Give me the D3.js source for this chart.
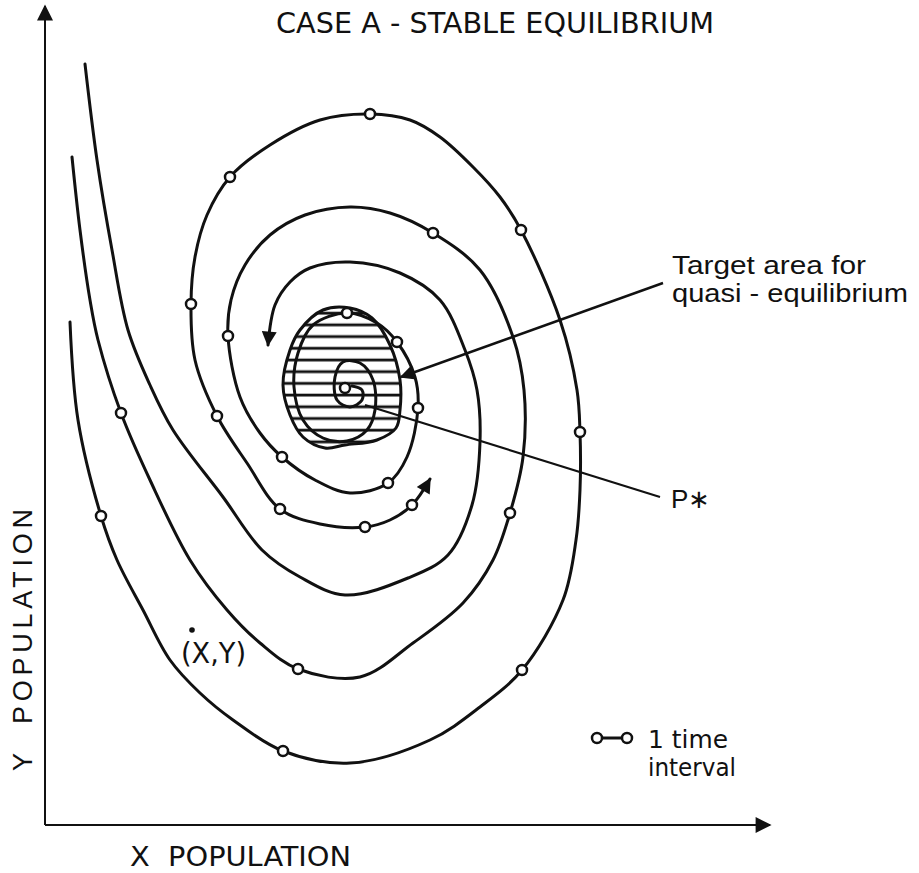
<!DOCTYPE html>
<html>
<head>
<meta charset="utf-8">
<script src="https://cdn.jsdelivr.net/npm/d3@7"></script>
<style>
  body { margin: 0; background: #fff; }
  text { fill: #111; }
</style>
</head>
<body>
<svg id="canvas" width="919" height="873"></svg>
<script>
// phase-plane trajectories, [x population, y population, 1 = one time interval mark]
let outerTrack = [
  [2.5, 50.3], [3.3, 40.5], [5.6, 30.9, 1], [7.2, 26.5], [9.8, 21.5], [12.5, 16.5],
  [15.5, 13.2], [18.8, 10.5], [23.8, 7.4, 1], [30.5, 6.2], [38.5, 8.5], [43.5, 11.8],
  [47.7, 15.5, 1], [51.8, 22.5], [53.1, 28.5], [53.5, 33.5], [53.5, 39.3, 1], [53.2, 43.5],
  [51.5, 50.5], [47.6, 59.5, 1], [45.5, 62.8], [42.8, 65.8], [39.5, 68.8], [36.5, 70.5],
  [32.5, 71.1, 1], [27.5, 70.5], [22.5, 68.0], [18.5, 64.8, 1], [16.2, 61.0], [15.0, 56.8],
  [14.6, 52.1, 1], [15.0, 46.5], [17.2, 40.9, 1], [20.2, 36.2], [23.5, 31.6, 1], [27.5, 30.1],
  [32.0, 29.8, 1], [34.5, 30.5], [36.7, 32.0, 1], [38.5, 34.6]
]

let middleTrack = [
  [2.7, 66.8], [3.5, 59.5], [4.5, 52.5], [5.3, 48.5], [7.6, 41.2, 1], [10.5, 34.5],
  [14.5, 26.5], [18.2, 21.5], [21.5, 18.2], [25.3, 15.6, 1], [31.5, 14.8], [36.8, 18.2],
  [41.8, 22.2], [44.8, 26.5], [46.5, 31.2, 1], [47.8, 36.8], [47.9, 43.5], [46.8, 48.8],
  [43.5, 55.5], [38.8, 59.2, 1], [34.5, 61.2], [30.5, 61.8], [26.0, 61.0], [22.5, 59.0],
  [20.0, 56.0], [18.6, 52.5], [18.3, 48.9, 1], [19.5, 42.8], [21.5, 39.2], [23.7, 36.8, 1],
  [27.0, 34.5], [30.5, 33.2], [34.3, 34.2, 1], [36.2, 36.8], [37.3, 41.7, 1], [37.0, 44.8],
  [35.2, 48.3, 1], [33.2, 50.2], [30.2, 51.2, 1], [26.8, 50.0], [25.3, 47.2], [24.9, 43.8],
  [25.8, 40.5], [27.8, 38.7], [30.2, 38.4], [32.2, 39.5], [33.0, 41.5], [32.8, 44.5],
  [31.5, 46.2], [29.8, 46.3], [29.0, 44.8], [29.2, 42.5], [30.5, 41.8], [31.7, 42.5],
  [31.7, 43.5], [30.7, 43.9]
]

let innerTrack = [
  [4.0, 76.1], [5.2, 66.5], [6.7, 57.5], [8.3, 49.5], [10.5, 44.0], [12.8, 39.5],
  [17.8, 32.8], [21.7, 27.5], [25.5, 24.8], [30.0, 23.0], [36.3, 24.7], [40.3, 27.0],
  [42.7, 32.0], [43.5, 38.3], [43.2, 43.5], [42.0, 47.5], [39.5, 52.5], [35.5, 55.2],
  [30.5, 56.3], [26.5, 55.7], [24.5, 54.3], [23.0, 52.0], [22.3, 48.0]
]

// target area for quasi-equilibrium (outline)
let targetArea = [
  [23.8, 44.0], [24.5, 47.5], [25.5, 49.5], [27.8, 51.5], [30.5, 51.7], [32.7, 50.7],
  [34.5, 48.0], [35.5, 44.5], [35.5, 41.5], [35.1, 39.7], [33.2, 38.5], [30.0, 38.0],
  [28.0, 37.7], [25.8, 38.8], [24.5, 41.0]
]

let equilibrium = [30.0, 43.7]
let samplePoint = [14.7, 19.5]
let targetLeader = [[61.8, 54.2], [35.6, 44.8]]
let pStarLeader = [[61.5, 32.8], [32.0, 42.0]]
let legendMarks = [[55.2, 8.7], [58.2, 8.7]]

let title = 'CASE A - STABLE EQUILIBRIUM'
let xLabel = 'X  POPULATION'
let yLabel = 'Y  POPULATION'
let targetLabel = ['Target area for', 'quasi - equilibrium']
let legendLabel = ['1 time', 'interval']

let narrow = "'Liberation Sans Narrow', 'DejaVu Sans Condensed', 'Liberation Sans', sans-serif"
let plain = "'Liberation Sans', Arial, sans-serif"

let canvas = d3.select('#canvas')

let x = d3.scaleLinear().domain([0, 100]).range([45, 1045])
let y = d3.scaleLinear().domain([0, 100]).range([825, -175])

let defs = canvas.append('defs')

defs.append('marker')
    .attr('id', 'head')
    .attr('viewBox', '0 0 10 10')
    .attr('refX', 9)
    .attr('refY', 5)
    .attr('markerUnits', 'userSpaceOnUse')
    .attr('markerWidth', 17)
    .attr('markerHeight', 15)
    .attr('orient', 'auto')
    .append('path')
    .attr('d', 'M0,0 L10,5 L0,10 Z')
    .attr('fill', '#111')

defs.append('marker')
    .attr('id', 'axisHead')
    .attr('viewBox', '0 0 10 10')
    .attr('refX', 9)
    .attr('refY', 5)
    .attr('markerUnits', 'userSpaceOnUse')
    .attr('markerWidth', 26)
    .attr('markerHeight', 16)
    .attr('orient', 'auto')
    .append('path')
    .attr('d', 'M0,0 L10,5 L0,10 Z')
    .attr('fill', '#111')

let hatch = defs.append('pattern')
    .attr('id', 'hatch')
    .attr('patternUnits', 'userSpaceOnUse')
    .attr('width', 20)
    .attr('height', 11.7)
    .attr('y', 4)
hatch.append('line')
    .attr('x1', 0).attr('x2', 20)
    .attr('y1', 5).attr('y2', 5)
    .attr('stroke', '#111')
    .attr('stroke-width', 2.8)

// axes
canvas.append('line')
    .attr('x1', x(0)).attr('y1', y(0))
    .attr('x2', x(0)).attr('y2', y(81.9))
    .attr('stroke', '#111')
    .attr('stroke-width', 2)
    .attr('marker-end', 'url(#axisHead)')

canvas.append('line')
    .attr('x1', x(0)).attr('y1', y(0))
    .attr('x2', x(72.5)).attr('y2', y(0))
    .attr('stroke', '#111')
    .attr('stroke-width', 2.2)
    .attr('marker-end', 'url(#axisHead)')

// hatched target area
canvas.append('path')
    .datum(targetArea)
    .attr('d', d3.line()
        .x(d => x(d[0]))
        .y(d => y(d[1]))
        .curve(d3.curveCatmullRomClosed.alpha(0.5)))
    .attr('fill', 'url(#hatch)')
    .attr('stroke', '#111')
    .attr('stroke-width', 3)

let track = d3.line()
    .x(d => x(d[0]))
    .y(d => y(d[1]))
    .curve(d3.curveCatmullRom.alpha(0.5))

let tracks = [
  { points: outerTrack, arrow: true },
  { points: middleTrack, arrow: false },
  { points: innerTrack, arrow: true }
]

canvas.selectAll('.track')
    .data(tracks)
    .enter()
    .append('path')
    .attr('class', 'track')
    .attr('d', t => track(t.points))
    .attr('fill', 'none')
    .attr('stroke', '#111')
    .attr('stroke-width', 3)
    .attr('stroke-linecap', 'round')
    .attr('marker-end', t => t.arrow ? 'url(#head)' : null)

// leaders
canvas.append('line')
    .attr('x1', x(targetLeader[0][0])).attr('y1', y(targetLeader[0][1]))
    .attr('x2', x(targetLeader[1][0])).attr('y2', y(targetLeader[1][1]))
    .attr('stroke', '#111')
    .attr('stroke-width', 2.4)
    .attr('marker-end', 'url(#head)')

canvas.append('line')
    .attr('x1', x(pStarLeader[0][0])).attr('y1', y(pStarLeader[0][1]))
    .attr('x2', x(pStarLeader[1][0])).attr('y2', y(pStarLeader[1][1]))
    .attr('stroke', '#111')
    .attr('stroke-width', 2.2)

// time interval marks
let marks = outerTrack.concat(middleTrack).filter(d => d[2] === 1)
marks.push(equilibrium)

canvas.selectAll('.mark')
    .data(marks)
    .enter()
    .append('circle')
    .attr('class', 'mark')
    .attr('cx', d => x(d[0]))
    .attr('cy', d => y(d[1]))
    .attr('r', 5)
    .attr('fill', '#fff')
    .attr('stroke', '#111')
    .attr('stroke-width', 2.5)

// legend
canvas.append('line')
    .attr('x1', x(legendMarks[0][0])).attr('y1', y(legendMarks[0][1]))
    .attr('x2', x(legendMarks[1][0])).attr('y2', y(legendMarks[1][1]))
    .attr('stroke', '#111')
    .attr('stroke-width', 3)

canvas.selectAll('.legendMark')
    .data(legendMarks)
    .enter()
    .append('circle')
    .attr('class', 'legendMark')
    .attr('cx', d => x(d[0]))
    .attr('cy', d => y(d[1]))
    .attr('r', 5)
    .attr('fill', '#fff')
    .attr('stroke', '#111')
    .attr('stroke-width', 2.5)

canvas.selectAll('.legendText')
    .data(legendLabel)
    .enter()
    .append('text')
    .attr('class', 'legendText')
    .attr('x', 648)
    .attr('y', (d, i) => 748 + i * 28)
    .attr('font-family', narrow)
    .attr('font-size', 25)
    .attr('textLength', (d, i) => i === 0 ? 80 : 88)
    .attr('lengthAdjust', 'spacingAndGlyphs')
    .text(d => d)

// sample state (X,Y)
canvas.append('circle')
    .attr('cx', x(samplePoint[0]))
    .attr('cy', y(samplePoint[1]))
    .attr('r', 2.8)
    .attr('fill', '#111')

canvas.append('text')
    .attr('x', 181)
    .attr('y', 663)
    .attr('font-family', narrow)
    .attr('font-size', 28)
    .attr('textLength', 65)
    .attr('lengthAdjust', 'spacingAndGlyphs')
    .text('(X,Y)')

// titles and labels
canvas.append('text')
    .attr('x', 276)
    .attr('y', 33)
    .attr('font-family', narrow)
    .attr('font-size', 29)
    .attr('textLength', 438)
    .attr('lengthAdjust', 'spacingAndGlyphs')
    .text(title)

canvas.append('text')
    .attr('x', 130)
    .attr('y', 866)
    .attr('font-family', narrow)
    .attr('font-size', 27)
    .attr('textLength', 221)
    .attr('lengthAdjust', 'spacingAndGlyphs')
    .style('white-space', 'pre')
    .text(xLabel)

canvas.append('text')
    .attr('transform', 'translate(32, 771) rotate(-90)')
    .attr('font-family', plain)
    .attr('font-size', 27)
    .attr('textLength', 262)
    .attr('lengthAdjust', 'spacing')
    .style('white-space', 'pre')
    .text(yLabel)

canvas.selectAll('.targetText')
    .data(targetLabel)
    .enter()
    .append('text')
    .attr('class', 'targetText')
    .attr('x', 672)
    .attr('y', (d, i) => 274 + i * 28)
    .attr('font-family', plain)
    .attr('font-size', 25)
    .attr('textLength', (d, i) => i === 0 ? 194 : 236)
    .attr('lengthAdjust', 'spacingAndGlyphs')
    .text(d => d)

canvas.append('text')
    .attr('x', 671)
    .attr('y', 508)
    .attr('font-family', plain)
    .attr('font-size', 26)
    .text('P\u2217')
</script>
</body>
</html>
